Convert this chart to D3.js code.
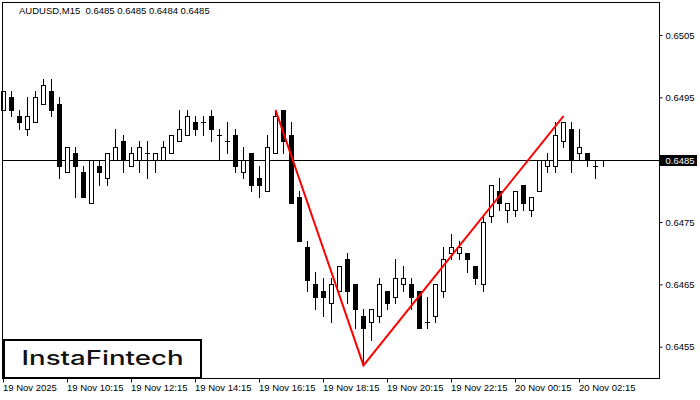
<!DOCTYPE html>
<html><head><meta charset="utf-8">
<script src="https://cdn.jsdelivr.net/npm/d3@7"></script>
<style>body{margin:0;background:#fff}svg{display:block}</style>
</head><body>
<svg id="c" width="700" height="400"></svg>
<script>
const symbolTitle = "AUDUSD,M15  0.6485 0.6485 0.6484 0.6485";
const opens  = [0.6493,0.6495,0.6492,0.6490,0.6491,0.6494,0.6496,0.6494,0.6483,0.6486,
                0.6483,0.6478,0.6484,0.6482,0.6485,0.6488,0.6484,0.6485,0.6486,0.6485,
                0.6485,0.6486,0.6488,0.6489,0.6491,0.6491,0.6492,0.6489,0.6488,0.6489,
                0.6483,0.6486,0.6482,0.6480,0.6486,0.6493,0.6489,0.6479,0.6471,0.6465,
                0.6464,0.6462,0.6464,0.6469,0.6465,0.6460,0.6459,0.6460,0.6464,0.6463,
                0.6465,0.6465,0.6464,0.6459,0.6460,0.6464,0.6470,0.6470,0.6470,0.6468,
                0.6465,0.6476,0.6480,0.6477,0.6477,0.6481,0.6477,0.6480,0.6484,0.6484,
                0.6488,0.6490,0.6486,0.6486,0.6484,0.6485];
const highs  = [0.6496,0.6496,0.6493,0.6495,0.6496,0.6498,0.6498,0.6495,0.6487,0.6487,
                0.6484,0.6485,0.6485,0.6486,0.6490,0.6489,0.6487,0.6488,0.6488,0.6486,
                0.6488,0.6489,0.6493,0.6493,0.6492,0.6492,0.6493,0.6490,0.6491,0.6490,
                0.6487,0.6486,0.6484,0.6489,0.6493,0.6493,0.6491,0.6480,0.6472,0.6467,
                0.6466,0.6466,0.6468,0.6470,0.6465,0.6461,0.6461,0.6466,0.6464,0.6469,
                0.6468,0.6466,0.6464,0.6463,0.6465,0.6471,0.6473,0.6472,0.6470,0.6468,
                0.6476,0.6481,0.6482,0.6478,0.6480,0.6481,0.6479,0.6485,0.6486,0.6491,
                0.6491,0.6491,0.6490,0.6486,0.6485,0.6485];
const lows   = [0.6493,0.6492,0.6490,0.6489,0.6491,0.6494,0.6492,0.6482,0.6483,0.6479,
                0.6479,0.6478,0.6481,0.6481,0.6485,0.6483,0.6484,0.6483,0.6482,0.6483,
                0.6485,0.6486,0.6488,0.6489,0.6489,0.6489,0.6488,0.6485,0.6486,0.6483,
                0.6482,0.6480,0.6479,0.6480,0.6486,0.6486,0.6478,0.6472,0.6464,0.6461,
                0.6460,0.6459,0.6464,0.6462,0.6458,0.6452,0.6456,0.6459,0.6461,0.6462,
                0.6464,0.6461,0.6458,0.6458,0.6459,0.6463,0.6469,0.6469,0.6467,0.6465,
                0.6464,0.6475,0.6477,0.6475,0.6476,0.6477,0.6476,0.6480,0.6483,0.6483,
                0.6487,0.6483,0.6485,0.6484,0.6482,0.6484];
const closes = [0.6496,0.6493,0.6491,0.6492,0.6495,0.6497,0.6493,0.6484,0.6487,0.6484,
                0.6479,0.6485,0.6483,0.6486,0.6487,0.6485,0.6486,0.6487,0.6486,0.6486,
                0.6487,0.6489,0.6490,0.6492,0.6490,0.6491,0.6490,0.6489,0.6488,0.6484,
                0.6485,0.6481,0.6481,0.6487,0.6492,0.6488,0.6478,0.6472,0.64657,0.6463,
                0.6463,0.6465,0.6468,0.6464,0.6461,0.6458,0.6461,0.6465,0.6462,0.6466,
                0.6466,0.6463,0.6458,0.6459,0.6465,0.6469,0.6471,0.6471,0.6469,0.6466,
                0.6475,0.6481,0.6478,0.6478,0.6480,0.6478,0.6479,0.6485,0.6485,0.6489,
                0.6491,0.6485,0.6487,0.6485,0.6484,0.6485];
const timeTickIndex  = [0, 8, 16, 24, 32, 40, 48, 56, 64, 72];
const timeTickLabels = ["19 Nov 2025","19 Nov 10:15","19 Nov 12:15","19 Nov 14:15","19 Nov 16:15",
                        "19 Nov 18:15","19 Nov 20:15","19 Nov 22:15","20 Nov 00:15","20 Nov 02:15"];
const priceTicks = [0.6455, 0.6465, 0.6475, 0.6495, 0.6505];
const currentPrice = 0.6485;
const patternIndex = [34, 45, 70];
const patternPrice = [0.6493, 0.6452, 0.6492];
const logoText = "InstaFintech";

const svg = d3.select("#c");
const FONT = "'Liberation Sans', Arial, sans-serif";
const x = d3.scaleLinear().domain([0, 75]).range([3, 603]);
const y = d3.scaleLinear().domain([0.6455, 0.6505]).range([346.7, 35.0]);
const py = v => Math.round(y(v));

svg.append("rect").attr("width",700).attr("height",400).attr("fill","#fff");

// current price line
svg.append("line").attr("x1",2).attr("x2",660)
  .attr("y1",py(currentPrice)+0.5).attr("y2",py(currentPrice)+0.5)
  .attr("stroke","#000").attr("shape-rendering","crispEdges");

const candles = d3.range(opens.length).map(i => ({i, o:opens[i], h:highs[i], l:lows[i], c:closes[i]}));
const g = svg.append("g").attr("shape-rendering","crispEdges");
g.selectAll("line.wick").data(candles).join("line").attr("class","wick")
  .attr("x1",d=>x(d.i)+0.5).attr("x2",d=>x(d.i)+0.5)
  .attr("y1",d=>py(d.h)).attr("y2",d=>py(d.l)+1)
  .attr("stroke","#000");
g.selectAll("rect.body").data(candles.filter(d=>py(d.o)!==py(d.c))).join("rect").attr("class","body")
  .attr("x",d=>x(d.i)-1.5).attr("width",4)
  .attr("y",d=>Math.min(py(d.o),py(d.c))+0.5)
  .attr("height",d=>Math.abs(py(d.o)-py(d.c)))
  .attr("fill",d=>d.c>d.o?"#fff":"#000").attr("stroke","#000");
g.selectAll("line.doji").data(candles.filter(d=>py(d.o)===py(d.c))).join("line").attr("class","doji")
  .attr("x1",d=>x(d.i)-2).attr("x2",d=>x(d.i)+3)
  .attr("y1",d=>py(d.o)+0.5).attr("y2",d=>py(d.o)+0.5)
  .attr("stroke","#000");

// pattern lines
svg.append("path")
  .datum(patternIndex.map((v,k)=>[v,patternPrice[k]]))
  .attr("d", d3.line().x(d=>x(d[0])+0.5).y(d=>y(d[1])))
  .attr("fill","none").attr("stroke","#ff0000").attr("stroke-width",2);

// frame
svg.append("rect").attr("x",2.5).attr("y",2.5).attr("width",657).attr("height",376)
  .attr("fill","none").attr("stroke","#000").attr("shape-rendering","crispEdges");

// right axis
const ya = svg.append("g").attr("transform","translate(659.5,0)")
  .call(d3.axisRight(y).tickValues(priceTicks).tickFormat(d3.format(".4f")).tickSize(3).tickPadding(3));
ya.select(".domain").remove();
ya.selectAll("text").attr("font-family",FONT).attr("font-size","9.5px").attr("fill","#000");
ya.selectAll("line").attr("stroke","#000");

// current price label
const cy = py(currentPrice);
svg.append("rect").attr("x",660).attr("y",cy-5).attr("width",37).attr("height",11).attr("fill","#000");
svg.append("text").attr("x",665.5).attr("y",cy+0.5).attr("dy","0.35em")
  .attr("font-family",FONT).attr("font-size","9.5px").attr("fill","#fff").text(d3.format(".4f")(currentPrice));

// bottom axis
const xa = svg.append("g").attr("transform","translate(0,378.5)")
  .call(d3.axisBottom(x).tickValues(timeTickIndex).tickFormat((d,k)=>timeTickLabels[k]).tickSize(4).tickPadding(2));
xa.select(".domain").remove();
xa.selectAll("text").attr("font-family",FONT).attr("font-size","9.5px").attr("fill","#000")
  .attr("text-anchor","start").attr("x",-0.5);
xa.selectAll("line").attr("stroke","#000");

// title
svg.append("text").attr("x",19).attr("y",14).attr("font-family",FONT).attr("font-size","9.5px")
  .attr("fill","#000").attr("xml:space","preserve").style("white-space","pre").text(symbolTitle);

// logo
svg.append("rect").attr("x",4).attr("y",340).attr("width",197).attr("height",38)
  .attr("fill","#fff").attr("stroke","#000").attr("stroke-width",2).attr("shape-rendering","crispEdges");
svg.append("text").attr("x",102.5).attr("y",365).attr("text-anchor","middle")
  .attr("font-family","Inter, 'Open Sans', sans-serif").attr("font-weight",500).attr("font-size","19.5px")
  .attr("textLength",162).attr("lengthAdjust","spacingAndGlyphs").attr("fill","#111").text(logoText);
</script>
</body></html>
